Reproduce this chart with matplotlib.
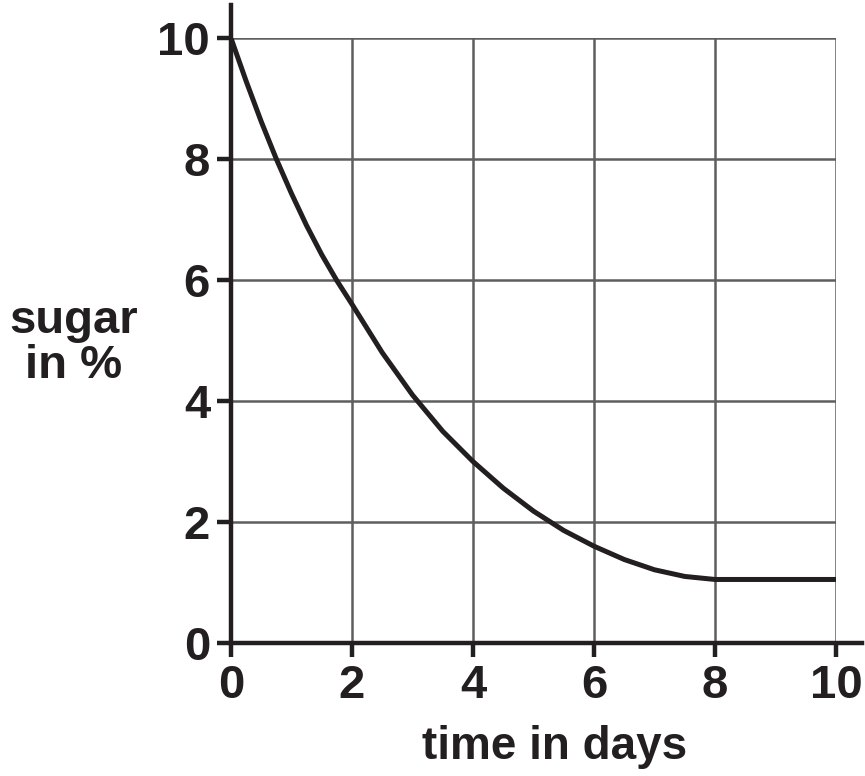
import matplotlib
matplotlib.use("Agg")
import matplotlib.pyplot as plt

# sugar content
days = [0, 0.25, 0.5, 0.75, 1.0, 1.25, 1.5, 1.75, 2.0, 2.5, 3.0, 3.5,
        4.0, 4.5, 5.0, 5.5, 6.0, 6.5, 7.0, 7.5, 8.0, 9.0, 10.0]
sugar = [10, 9.29, 8.62, 8.0, 7.43, 6.9, 6.42, 5.99, 5.6, 4.8, 4.1, 3.5,
         3.0, 2.56, 2.18, 1.86, 1.6, 1.38, 1.21, 1.1, 1.05, 1.05, 1.05]
ticks = [0, 2, 4, 6, 8, 10]

dark = "#231f20"
grey = "#5e5e5e"

plt.rcParams["font.family"] = ["Liberation Sans", "DejaVu Sans"]
plt.rcParams["font.weight"] = "bold"

fig = plt.figure(figsize=(8.65, 7.76), dpi=100)
ax = fig.add_axes([0.267, 0.1714, 0.6995, 0.7796])

ax.plot(days, sugar, color=dark, lw=3.6, solid_capstyle="butt",
        solid_joinstyle="round", zorder=3)

ax.set_xlim(0, 10)
ax.set_ylim(0, 10)
ax.set_xticks(ticks)
ax.set_yticks(ticks)
ax.grid(True, color=grey, lw=1.8)
ax.set_axisbelow(True)

for side in ["top", "right"]:
    ax.spines[side].set_visible(False)
for side in ["left", "bottom"]:
    ax.spines[side].set_color(dark)
    ax.spines[side].set_linewidth(3.2)
    ax.spines[side].set_zorder(4)
ax.spines["left"].set_bounds(0, 10.55)
ax.spines["bottom"].set_bounds(0, 10.43)

ax.tick_params(direction="out", length=10, width=3.2, color=dark,
               labelsize=34, labelcolor=dark, pad=5)
for lab in ax.get_xticklabels() + ax.get_yticklabels():
    lab.set_fontweight("bold")

ax.set_xlabel("time in days", fontsize=33, fontweight="bold", color=dark)
ax.xaxis.set_label_coords(0.535, -0.135)
ax.set_ylabel("sugar\nin %", fontsize=34, fontweight="bold", color=dark,
              rotation=0, ha="center", va="center", linespacing=1.05)
ax.yaxis.set_label_coords(-0.26, 0.495)

plt.savefig("out.png", dpi=100)
